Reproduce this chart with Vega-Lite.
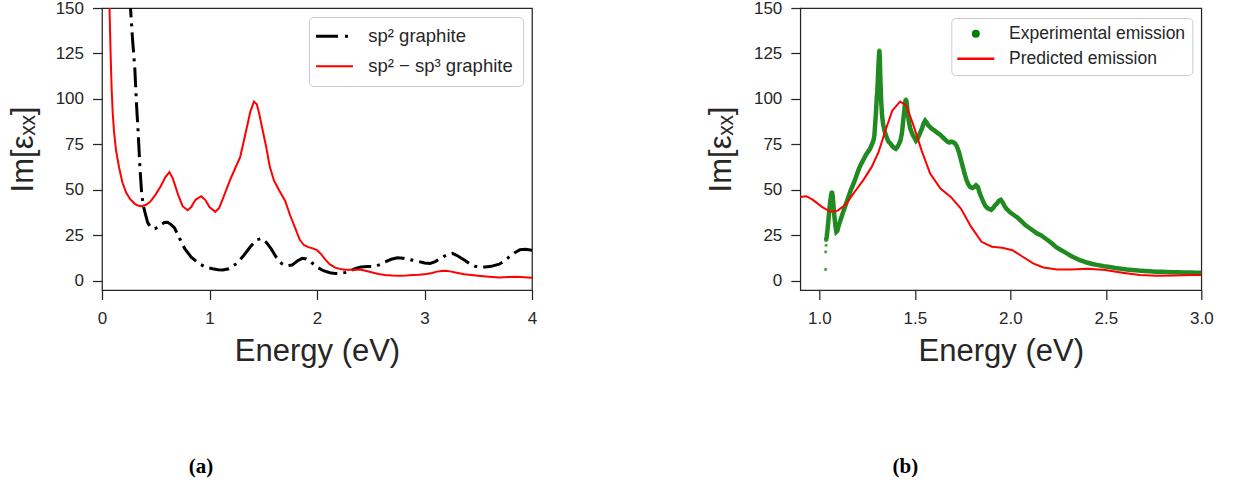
{
  "$schema": "https://vega.github.io/schema/vega-lite/v6.json",
  "background": "white",
  "padding": {"left": 6, "top": -2, "right": 0, "bottom": 0},
  "config": {
    "font": "Liberation Sans",
    "view": {"stroke": "#262626", "strokeWidth": 1.25},
    "axis": {
      "domain": false, "grid": false, "labelFlush": false,
      "tickSize": 9.5, "tickWidth": 1.25, "tickColor": "#262626",
      "labelFont": "Liberation Sans", "labelFontSize": 17, "labelColor": "#262626",
      "titleFont": "Liberation Sans", "titleFontSize": 31, "titleFontWeight": "normal", "titleColor": "#262626"
    },
    "axisX": {"labelPadding": 10.5, "titlePadding": 10},
    "axisY": {"labelPadding": 9, "titlePadding": 16},
    "legend": {
      "title": null, "orient": "top-right", "offset": 9, "labelLimit": 400,
      "labelFont": "Liberation Sans", "labelColor": "#262626",
      "strokeColor": "#cccccc", "fillColor": "rgba(255,255,255,0.8)", "cornerRadius": 4
    }
  },
  "datasets": {
    "sp2": [
      {"x":0.24,"y":175},{"x":0.265,"y":150},{"x":0.285,"y":132},{"x":0.305,"y":117},{"x":0.32,"y":98},{"x":0.337,"y":81},{"x":0.352,"y":63},{"x":0.369,"y":48},{"x":0.385,"y":41},{"x":0.402,"y":37},{"x":0.425,"y":32},{"x":0.45,"y":29.6},{"x":0.475,"y":28.6},{"x":0.5,"y":28.8},{"x":0.54,"y":30.5},{"x":0.58,"y":32},{"x":0.61,"y":32.2},{"x":0.64,"y":31},{"x":0.675,"y":29},{"x":0.72,"y":23.5},{"x":0.771,"y":17.5},{"x":0.83,"y":13},{"x":0.9,"y":9.5},{"x":0.96,"y":7.6},{"x":1.028,"y":6.6},{"x":1.08,"y":6},{"x":1.124,"y":5.9},{"x":1.18,"y":6.6},{"x":1.253,"y":9.5},{"x":1.32,"y":14},{"x":1.38,"y":18.7},{"x":1.44,"y":22.5},{"x":1.484,"y":23.2},{"x":1.53,"y":21},{"x":1.574,"y":17.5},{"x":1.62,"y":13},{"x":1.67,"y":9.5},{"x":1.72,"y":8.2},{"x":1.767,"y":8.6},{"x":1.82,"y":11},{"x":1.863,"y":12.3},{"x":1.9,"y":12},{"x":1.94,"y":10.5},{"x":2.0,"y":7.5},{"x":2.06,"y":5.5},{"x":2.12,"y":4.4},{"x":2.17,"y":4},{"x":2.217,"y":4},{"x":2.27,"y":4.6},{"x":2.313,"y":5.5},{"x":2.36,"y":6.8},{"x":2.41,"y":7.6},{"x":2.47,"y":7.8},{"x":2.538,"y":7.9},{"x":2.59,"y":9},{"x":2.634,"y":10.4},{"x":2.69,"y":11.8},{"x":2.747,"y":12.6},{"x":2.8,"y":12.4},{"x":2.85,"y":11.8},{"x":2.892,"y":11.3},{"x":2.95,"y":10.5},{"x":3.0,"y":9.8},{"x":3.052,"y":9.5},{"x":3.1,"y":10.5},{"x":3.149,"y":12.3},{"x":3.2,"y":14},{"x":3.261,"y":15},{"x":3.31,"y":13.6},{"x":3.374,"y":11.3},{"x":3.42,"y":9.4},{"x":3.47,"y":8},{"x":3.52,"y":7.6},{"x":3.566,"y":7.6},{"x":3.62,"y":7.9},{"x":3.695,"y":9.1},{"x":3.74,"y":10.8},{"x":3.791,"y":13.2},{"x":3.84,"y":15.4},{"x":3.888,"y":17},{"x":3.94,"y":17.3},{"x":4.0,"y":16.8}
    ],
    "sp23": [
      {"x":0.06,"y":175},{"x":0.07,"y":150},{"x":0.08,"y":125},{"x":0.09,"y":105},{"x":0.1,"y":92},{"x":0.112,"y":82},{"x":0.13,"y":72},{"x":0.16,"y":62},{"x":0.19,"y":54},{"x":0.225,"y":48.5},{"x":0.26,"y":45},{"x":0.305,"y":42.3},{"x":0.34,"y":41.2},{"x":0.37,"y":41},{"x":0.41,"y":41.8},{"x":0.45,"y":43.5},{"x":0.5,"y":47.5},{"x":0.546,"y":52},{"x":0.59,"y":57},{"x":0.627,"y":59.8},{"x":0.66,"y":56},{"x":0.707,"y":47.5},{"x":0.75,"y":41},{"x":0.797,"y":38.8},{"x":0.83,"y":40.5},{"x":0.87,"y":44.5},{"x":0.922,"y":46.5},{"x":0.96,"y":44.5},{"x":1.0,"y":40.5},{"x":1.054,"y":37.9},{"x":1.09,"y":40},{"x":1.13,"y":46},{"x":1.189,"y":55},{"x":1.24,"y":62},{"x":1.285,"y":68},{"x":1.32,"y":77},{"x":1.35,"y":85},{"x":1.38,"y":93},{"x":1.414,"y":98.5},{"x":1.44,"y":97},{"x":1.462,"y":92},{"x":1.49,"y":84},{"x":1.526,"y":74},{"x":1.56,"y":63},{"x":1.6,"y":55},{"x":1.65,"y":49.5},{"x":1.703,"y":44},{"x":1.75,"y":36},{"x":1.8,"y":28.5},{"x":1.84,"y":22.5},{"x":1.88,"y":19.5},{"x":1.92,"y":18.5},{"x":1.96,"y":17.8},{"x":2.0,"y":16.8},{"x":2.04,"y":14.5},{"x":2.08,"y":11.5},{"x":2.12,"y":9},{"x":2.17,"y":7.2},{"x":2.217,"y":6.5},{"x":2.26,"y":6.1},{"x":2.313,"y":6},{"x":2.36,"y":6.1},{"x":2.41,"y":6},{"x":2.46,"y":5.4},{"x":2.506,"y":4.7},{"x":2.57,"y":3.7},{"x":2.634,"y":3.1},{"x":2.7,"y":2.9},{"x":2.763,"y":2.8},{"x":2.83,"y":2.9},{"x":2.892,"y":3.1},{"x":2.95,"y":3.3},{"x":3.02,"y":3.7},{"x":3.07,"y":4.3},{"x":3.116,"y":5},{"x":3.16,"y":5.4},{"x":3.197,"y":5.5},{"x":3.25,"y":5},{"x":3.31,"y":4.3},{"x":3.37,"y":3.6},{"x":3.438,"y":3.1},{"x":3.52,"y":2.6},{"x":3.599,"y":2.2},{"x":3.695,"y":1.8},{"x":3.78,"y":2.0},{"x":3.855,"y":2.2},{"x":3.93,"y":1.9},{"x":4.0,"y":1.6}
    ],
    "pred": [
      {"x":0.9,"y":46.1},{"x":0.932,"y":46.5},{"x":0.968,"y":44.3},{"x":1.013,"y":40.6},{"x":1.058,"y":37.9},{"x":1.094,"y":38.4},{"x":1.139,"y":42.1},{"x":1.184,"y":48.8},{"x":1.229,"y":55.2},{"x":1.274,"y":62.6},{"x":1.31,"y":70.8},{"x":1.346,"y":82.7},{"x":1.382,"y":93.6},{"x":1.423,"y":98.6},{"x":1.454,"y":96.4},{"x":1.49,"y":86.3},{"x":1.535,"y":71.7},{"x":1.58,"y":58.9},{"x":1.634,"y":50.7},{"x":1.688,"y":46.1},{"x":1.741,"y":39.7},{"x":1.795,"y":29.6},{"x":1.849,"y":21.4},{"x":1.903,"y":18.7},{"x":1.957,"y":18.1},{"x":2.011,"y":16.8},{"x":2.065,"y":13.2},{"x":2.119,"y":9.5},{"x":2.173,"y":7.3},{"x":2.245,"y":6.2},{"x":2.317,"y":6.2},{"x":2.407,"y":6.6},{"x":2.497,"y":5.9},{"x":2.587,"y":4.4},{"x":2.677,"y":3.1},{"x":2.767,"y":2.7},{"x":2.856,"y":2.9},{"x":2.946,"y":3.1},{"x":3.0,"y":3.1}
    ],
    "exp": [
      {"x":1.033,"y":6.2,"band":false},{"x":1.033,"y":15.9,"band":false},{"x":1.035,"y":19.5,"band":false},
      {"x":1.034,"y":22,"band":true},{"x":1.038,"y":24,"band":true},{"x":1.042,"y":27.5,"band":true},{"x":1.047,"y":33,"band":true},{"x":1.052,"y":39,"band":true},{"x":1.057,"y":44,"band":true},{"x":1.062,"y":47.5,"band":true},{"x":1.066,"y":49,"band":true},{"x":1.07,"y":46,"band":true},{"x":1.074,"y":41,"band":true},{"x":1.079,"y":35,"band":true},{"x":1.084,"y":30,"band":true},{"x":1.089,"y":27,"band":true},{"x":1.094,"y":27.5,"band":true},{"x":1.1,"y":30,"band":true},{"x":1.108,"y":32.5,"band":true},{"x":1.116,"y":35,"band":true},{"x":1.125,"y":38,"band":true},{"x":1.135,"y":41,"band":true},{"x":1.145,"y":44,"band":true},{"x":1.155,"y":47,"band":true},{"x":1.165,"y":50,"band":true},{"x":1.175,"y":52.5,"band":true},{"x":1.185,"y":55,"band":true},{"x":1.195,"y":58,"band":true},{"x":1.205,"y":61,"band":true},{"x":1.215,"y":63.5,"band":true},{"x":1.225,"y":65.5,"band":true},{"x":1.235,"y":67.5,"band":true},{"x":1.245,"y":69.5,"band":true},{"x":1.255,"y":71,"band":true},{"x":1.265,"y":72.5,"band":true},{"x":1.275,"y":75,"band":true},{"x":1.283,"y":77,"band":true},{"x":1.288,"y":80,"band":true},{"x":1.292,"y":86,"band":true},{"x":1.296,"y":92,"band":true},{"x":1.3,"y":100,"band":true},{"x":1.303,"y":104,"band":true},{"x":1.306,"y":110,"band":true},{"x":1.309,"y":118,"band":true},{"x":1.312,"y":124,"band":true},{"x":1.314,"y":127,"band":true},{"x":1.316,"y":124,"band":true},{"x":1.318,"y":116,"band":true},{"x":1.321,"y":106,"band":true},{"x":1.324,"y":98,"band":true},{"x":1.328,"y":91,"band":true},{"x":1.334,"y":86,"band":true},{"x":1.342,"y":82,"band":true},{"x":1.352,"y":79,"band":true},{"x":1.362,"y":76.5,"band":true},{"x":1.372,"y":75.5,"band":true},{"x":1.382,"y":74,"band":true},{"x":1.392,"y":73,"band":true},{"x":1.4,"y":72.5,"band":true},{"x":1.408,"y":73.5,"band":true},{"x":1.416,"y":75,"band":true},{"x":1.424,"y":77,"band":true},{"x":1.432,"y":81,"band":true},{"x":1.438,"y":87,"band":true},{"x":1.444,"y":93,"band":true},{"x":1.449,"y":98,"band":true},{"x":1.453,"y":100,"band":true},{"x":1.457,"y":98,"band":true},{"x":1.462,"y":93,"band":true},{"x":1.468,"y":88,"band":true},{"x":1.475,"y":84,"band":true},{"x":1.482,"y":82,"band":true},{"x":1.49,"y":80,"band":true},{"x":1.498,"y":78.5,"band":true},{"x":1.506,"y":77,"band":true},{"x":1.514,"y":78,"band":true},{"x":1.522,"y":80,"band":true},{"x":1.53,"y":82,"band":true},{"x":1.538,"y":84,"band":true},{"x":1.546,"y":86.5,"band":true},{"x":1.554,"y":88,"band":true},{"x":1.562,"y":87,"band":true},{"x":1.57,"y":85.5,"band":true},{"x":1.58,"y":84.5,"band":true},{"x":1.59,"y":83.5,"band":true},{"x":1.6,"y":82.8,"band":true},{"x":1.61,"y":82,"band":true},{"x":1.62,"y":81.2,"band":true},{"x":1.63,"y":80.5,"band":true},{"x":1.64,"y":79.5,"band":true},{"x":1.65,"y":78.5,"band":true},{"x":1.66,"y":77.5,"band":true},{"x":1.67,"y":76.5,"band":true},{"x":1.68,"y":76,"band":true},{"x":1.69,"y":76.5,"band":true},{"x":1.7,"y":76.2,"band":true},{"x":1.71,"y":75.5,"band":true},{"x":1.72,"y":74,"band":true},{"x":1.73,"y":71,"band":true},{"x":1.74,"y":67,"band":true},{"x":1.75,"y":63,"band":true},{"x":1.76,"y":59,"band":true},{"x":1.77,"y":55.5,"band":true},{"x":1.78,"y":53,"band":true},{"x":1.79,"y":51.5,"band":true},{"x":1.8,"y":51,"band":true},{"x":1.81,"y":51.5,"band":true},{"x":1.82,"y":52.5,"band":true},{"x":1.83,"y":51.5,"band":true},{"x":1.84,"y":48,"band":true},{"x":1.85,"y":45.5,"band":true},{"x":1.86,"y":43,"band":true},{"x":1.87,"y":41,"band":true},{"x":1.88,"y":40,"band":true},{"x":1.89,"y":39.5,"band":true},{"x":1.9,"y":39,"band":true},{"x":1.91,"y":40,"band":true},{"x":1.92,"y":41.5,"band":true},{"x":1.93,"y":42.5,"band":true},{"x":1.94,"y":44,"band":true},{"x":1.95,"y":44.5,"band":true},{"x":1.96,"y":43,"band":true},{"x":1.97,"y":41,"band":true},{"x":1.98,"y":39.5,"band":true},{"x":1.99,"y":38.5,"band":true},{"x":2.0,"y":37.5,"band":true},{"x":2.02,"y":36,"band":true},{"x":2.04,"y":34.5,"band":true},{"x":2.06,"y":32.5,"band":true},{"x":2.08,"y":30.5,"band":true},{"x":2.1,"y":29,"band":true},{"x":2.12,"y":27.5,"band":true},{"x":2.14,"y":26,"band":true},{"x":2.16,"y":25,"band":true},{"x":2.18,"y":23.5,"band":true},{"x":2.2,"y":22,"band":true},{"x":2.22,"y":20.3,"band":true},{"x":2.24,"y":18.5,"band":true},{"x":2.26,"y":17.2,"band":true},{"x":2.28,"y":16,"band":true},{"x":2.3,"y":14.8,"band":true},{"x":2.32,"y":13.5,"band":true},{"x":2.34,"y":12.5,"band":true},{"x":2.36,"y":11.5,"band":true},{"x":2.38,"y":10.8,"band":true},{"x":2.4,"y":10,"band":true},{"x":2.43,"y":9.2,"band":true},{"x":2.46,"y":8.6,"band":true},{"x":2.49,"y":8.0,"band":true},{"x":2.52,"y":7.5,"band":true},{"x":2.55,"y":7,"band":true},{"x":2.58,"y":6.6,"band":true},{"x":2.61,"y":6.2,"band":true},{"x":2.64,"y":5.9,"band":true},{"x":2.67,"y":5.6,"band":true},{"x":2.7,"y":5.4,"band":true},{"x":2.73,"y":5.2,"band":true},{"x":2.76,"y":5.0,"band":true},{"x":2.79,"y":4.9,"band":true},{"x":2.82,"y":4.8,"band":true},{"x":2.85,"y":4.7,"band":true},{"x":2.88,"y":4.6,"band":true},{"x":2.91,"y":4.5,"band":true},{"x":2.94,"y":4.5,"band":true},{"x":2.97,"y":4.4,"band":true},{"x":3.0,"y":4.4,"band":true}
    ]
  },
  "resolve": {"scale": {"color": "independent", "x": "independent", "y": "independent"}, "legend": {"color": "independent"}},
  "spacing": 166.3,
  "hconcat": [
    {
      "width": 430, "height": 282,
      "title": {"text": "(a)", "orient": "bottom", "anchor": "start", "frame": "group", "align": "center", "dx": 99, "offset": 90, "font": "Liberation Serif", "fontSize": 21, "fontWeight": "bold", "color": "#000000"},
      "layer": [
        {
          "data": {"name": "sp2"},
          "transform": [{"calculate": "'sp² graphite'", "as": "series"}],
          "mark": {"type": "line", "strokeWidth": 3, "strokeDash": [20, 6, 3, 6], "clip": true},
          "encoding": {
            "x": {"field": "x", "type": "quantitative", "scale": {"domain": [0, 4], "nice": false, "zero": false}, "axis": {"title": "Energy (eV)", "values": [0, 1, 2, 3, 4], "format": "d"}},
            "y": {"field": "y", "type": "quantitative", "scale": {"domain": [-5.1, 150], "nice": false, "zero": false}, "axis": {"title": "Im[εₓₓ]", "values": [0, 25, 50, 75, 100, 125, 150]}},
            "color": {"field": "series", "type": "nominal", "scale": {"domain": ["sp² graphite", "sp² − sp³ graphite"], "range": ["#000000", "#ff0000"]},
              "legend": {"symbolType": "stroke", "symbolSize": 1369, "symbolOffset": 6.25, "labelOffset": 24.5, "labelFontSize": 18.5, "padding": 10, "rowPadding": 11,
                "encode": {"symbols": {"update": {
                  "shape": {"value": "stroke"},
                  "fill": {"value": "transparent"},
                  "stroke": {"signal": "datum.value === 'sp² graphite' ? '#000000' : '#ff0000'"},
                  "strokeWidth": {"signal": "datum.value === 'sp² graphite' ? 3 : 2"},
                  "strokeDash": {"signal": "datum.value === 'sp² graphite' ? [22, 7, 3, 8] : [1, 0]"},
                  "opacity": {"value": 1}
                }}}}}
          }
        },
        {
          "data": {"name": "sp23"},
          "transform": [{"calculate": "'sp² − sp³ graphite'", "as": "series"}],
          "mark": {"type": "line", "strokeWidth": 2, "clip": true},
          "encoding": {
            "x": {"field": "x", "type": "quantitative"},
            "y": {"field": "y", "type": "quantitative"},
            "color": {"field": "series", "type": "nominal"}
          }
        }
      ]
    },
    {
      "width": 401, "height": 282,
      "title": {"text": "(b)", "orient": "bottom", "anchor": "start", "frame": "group", "align": "center", "dx": 105, "offset": 90, "font": "Liberation Serif", "fontSize": 21, "fontWeight": "bold", "color": "#000000"},
      "layer": [
        {
          "data": {"name": "exp"},
          "transform": [{"filter": "datum.band"}],
          "mark": {"type": "line", "strokeWidth": 4.5, "color": "#0b7d0b", "opacity": 0.9, "clip": true},
          "encoding": {
            "x": {"field": "x", "type": "quantitative", "scale": {"domain": [0.9, 3.0], "nice": false, "zero": false}, "axis": {"title": "Energy (eV)", "values": [1.0, 1.5, 2.0, 2.5, 3.0], "format": ".1f"}},
            "y": {"field": "y", "type": "quantitative", "scale": {"domain": [-5.1, 150], "nice": false, "zero": false}, "axis": {"title": "Im[εₓₓ]", "values": [0, 25, 50, 75, 100, 125, 150]}}
          }
        },
        {
          "data": {"name": "exp"},
          "mark": {"type": "point", "filled": true, "size": 10, "color": "#1e8c1e", "opacity": 0.8, "clip": true},
          "encoding": {
            "x": {"field": "x", "type": "quantitative"},
            "y": {"field": "y", "type": "quantitative"}
          }
        },
        {
          "data": {"name": "pred"},
          "transform": [{"calculate": "'Predicted emission'", "as": "series"}],
          "mark": {"type": "line", "strokeWidth": 2, "clip": true},
          "encoding": {
            "x": {"field": "x", "type": "quantitative"},
            "y": {"field": "y", "type": "quantitative"},
            "color": {"field": "series", "type": "nominal", "scale": {"domain": ["Experimental emission", "Predicted emission"], "range": ["#008000", "#ff0000"]},
              "legend": {"symbolType": "stroke", "symbolSize": 1369, "symbolOffset": 8.75, "labelOffset": 24.5, "labelFontSize": 17.5, "padding": 7, "rowPadding": -2, "offset": 9.5,
                "encode": {"symbols": {"update": {
                  "shape": {"value": "stroke"},
                  "fill": {"value": "transparent"},
                  "stroke": {"signal": "datum.value === 'Experimental emission' ? '#008000' : '#ff0000'"},
                  "strokeWidth": {"signal": "datum.value === 'Experimental emission' ? 8 : 2.5"},
                  "strokeCap": {"signal": "datum.value === 'Experimental emission' ? 'round' : 'butt'"},
                  "strokeDash": {"signal": "datum.value === 'Experimental emission' ? [0.01, 1000] : [1, 0]"},
                  "strokeDashOffset": {"signal": "datum.value === 'Experimental emission' ? -18.5 : 0"},
                  "opacity": {"value": 1}
                }}}}}
          }
        }
      ]
    }
  ]
}
